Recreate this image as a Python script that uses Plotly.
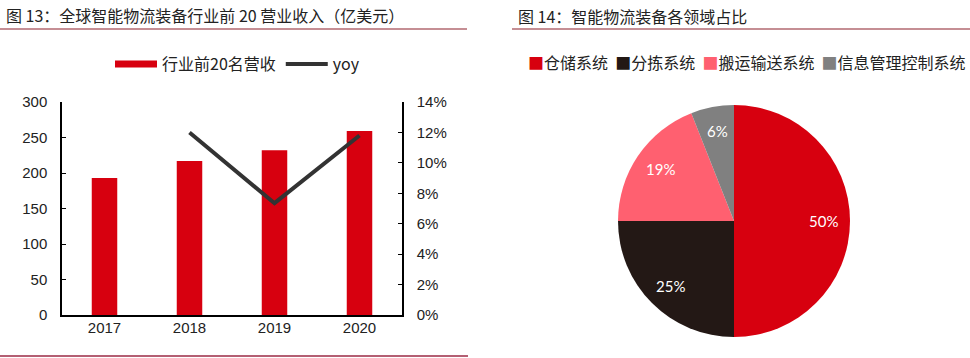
import math
import plotly.graph_objects as go

W, H = 970, 358

years = ["2017", "2018", "2019", "2020"]
revenue = [193, 217, 232, 259]
yoy = [None, 0.120, 0.0735, 0.118]

pie_labels = ["仓储系统", "分拣系统", "搬运输送系统", "信息管理控制系统"]
pie_values = [50, 25, 19, 6]
pie_colors = ["#D7000F", "#231815", "#FF6070", "#808080"]

CJK = "Noto Sans CJK SC"
NUM = "Liberation Sans"

def px_x(x):
    return x / W

def px_y(y):
    return (H - y) / H

# pie geometry (pixels)
PIE_CX, PIE_CY, PIE_R = 734, 221, 116

fig = go.Figure()

fig.add_trace(go.Bar(
    x=years, y=revenue, name="行业前20名营收",
    marker=dict(color="#D7000F", line=dict(width=0)),
    width=0.3, showlegend=False, xaxis="x", yaxis="y",
))
# legend entry for bars (wide red bar symbol)
fig.add_trace(go.Scatter(
    x=[None], y=[None], mode="lines", name="行业前20名营收",
    line=dict(color="#D7000F", width=7), xaxis="x", yaxis="y",
))
fig.add_trace(go.Scatter(
    x=years, y=yoy, mode="lines", name="yoy",
    line=dict(color="#333333", width=4), xaxis="x", yaxis="y2",
    connectgaps=False,
))

fig.add_trace(go.Pie(
    labels=pie_labels, values=pie_values,
    marker=dict(colors=pie_colors, line=dict(width=0)),
    sort=False, direction="clockwise", rotation=0,
    textinfo="none",
    domain=dict(x=[px_x(PIE_CX - PIE_R), px_x(PIE_CX + PIE_R)],
                y=[px_y(PIE_CY + PIE_R), px_y(PIE_CY - PIE_R)]),
    showlegend=False, hoverinfo="label+percent",
))

# percentage labels placed along each slice's mid-angle
total = sum(pie_values)
cum = 0
for v in pie_values:
    theta = 2 * math.pi * (cum + v / 2) / total
    cum += v
    lx = PIE_CX + 0.77 * PIE_R * math.sin(theta)
    ly = PIE_CY - 0.79 * PIE_R * math.cos(theta)
    fig.add_annotation(
        text=f"{v}%", x=px_x(lx), y=px_y(ly), xref="paper", yref="paper",
        xanchor="center", yanchor="middle", showarrow=False,
        font=dict(family="Lato", size=15, color="white"),
    )

fig.update_layout(
    width=W, height=H,
    margin=dict(l=0, r=0, t=0, b=0, autoexpand=False),
    paper_bgcolor="white", plot_bgcolor="white",
    showlegend=True,
    xaxis=dict(
        domain=[px_x(62), px_x(402)],
        showline=True, linecolor="black", linewidth=1.5,
        ticks="", showgrid=False, zeroline=False,
        tickfont=dict(family=NUM, size=15, color="#222"),
        ticklabelstandoff=-2,
        anchor="y",
    ),
    yaxis=dict(
        domain=[px_y(315), px_y(102)],
        range=[0, 300], dtick=50,
        showline=True, linecolor="black", linewidth=1.5,
        ticks="inside", ticklen=4, tickcolor="black",
        showgrid=False, zeroline=False,
        tickfont=dict(family=NUM, size=15, color="#222"),
        ticklabelstandoff=10,
        anchor="x",
    ),
    yaxis2=dict(
        domain=[px_y(315), px_y(102)],
        range=[0, 0.14], dtick=0.02, tickformat=".0%",
        overlaying="y", side="right", anchor="x",
        showline=True, linecolor="black", linewidth=1.5,
        ticks="inside", ticklen=4, tickcolor="black",
        showgrid=False, zeroline=False,
        tickfont=dict(family=NUM, size=15, color="#222"),
        ticklabelstandoff=10,
    ),
    legend=dict(
        orientation="h", x=px_x(110), y=px_y(64), xanchor="left", yanchor="middle",
        font=dict(family=CJK, size=16, color="#222"),
        itemwidth=42, tracegroupgap=0, bgcolor="rgba(0,0,0,0)",
    ),
)

# pie legend as rich text built from labels/colors
pie_legend = "  ".join(
    f"<span style='color:{c}'>■</span>{lab}" for lab, c in zip(pie_labels, pie_colors)
)
fig.add_annotation(
    text=pie_legend,
    x=px_x(526), y=px_y(62), xref="paper", yref="paper",
    xanchor="left", yanchor="middle", showarrow=False,
    font=dict(family=CJK, size=16, color="#222"),
)

fig.add_annotation(
    text="图 13：全球智能物流装备行业前 20 营业收入（亿美元）",
    x=px_x(4), y=px_y(15), xref="paper", yref="paper",
    xanchor="left", yanchor="middle", showarrow=False,
    font=dict(family=CJK, size=16, color="#222"),
)
fig.add_annotation(
    text="图 14：智能物流装备各领域占比",
    x=px_x(516), y=px_y(16), xref="paper", yref="paper",
    xanchor="left", yanchor="middle", showarrow=False,
    font=dict(family=CJK, size=16, color="#222"),
)

line_col = "#8B1E2B"
fig.add_shape(type="line", xref="paper", yref="paper",
              x0=0, x1=px_x(467), y0=px_y(29), y1=px_y(29),
              line=dict(color=line_col, width=1.2))
fig.add_shape(type="line", xref="paper", yref="paper",
              x0=px_x(512), x1=1, y0=px_y(29), y1=px_y(29),
              line=dict(color=line_col, width=1.2))
fig.add_shape(type="line", xref="paper", yref="paper",
              x0=0, x1=px_x(468), y0=px_y(356), y1=px_y(356),
              line=dict(color="#9B2A45", width=1.5))

fig.write_html("out.html", config={"displayModeBar": False},
               post_script="document.body.style.margin='0';")
